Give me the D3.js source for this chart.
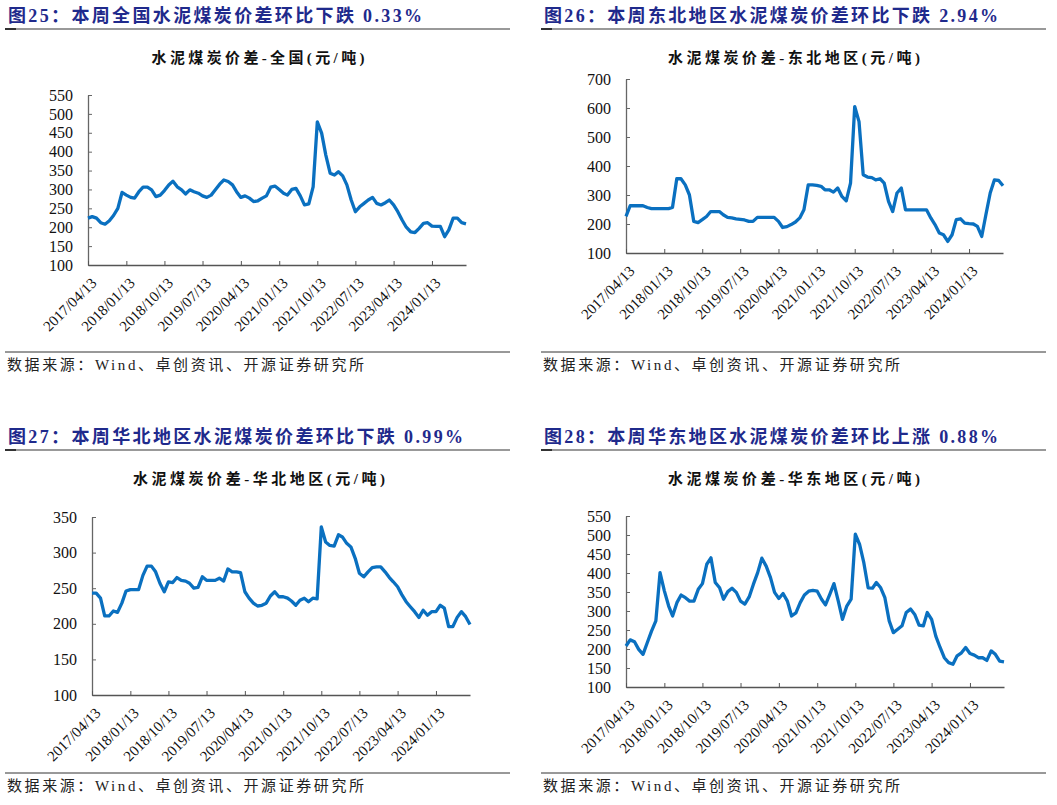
<!DOCTYPE html>
<html>
<head>
<meta charset="utf-8">
<script src="https://cdn.jsdelivr.net/npm/d3@7"></script>
<style>
	body { margin: 0; background: #fff; }
</style>
</head>
<body>
<script type="text/javascript">

	// x axis labels (every 9 months)
	var tickLabels = ["2017/04/13", "2018/01/13", "2018/10/13", "2019/07/13", "2020/04/13",
		"2021/01/13", "2021/10/13", "2022/07/13", "2023/04/13", "2024/01/13"];

	// monthly readings, starting 2017/04/13
	var nationalValues = [224, 228, 224, 212, 208, 217, 231, 250, 292, 285,
		279, 277, 294, 306, 306, 299, 281, 285, 297, 312,
		322, 307, 299, 288, 299, 294, 290, 283, 279, 285,
		299, 314, 325, 321, 312, 294, 279, 283, 277, 268,
		270, 277, 283, 306, 309, 300, 290, 285, 300, 303,
		283, 259, 262, 307, 479, 449, 391, 343, 338, 347,
		336, 312, 272, 241, 254, 263, 272, 279, 263, 259,
		265, 272, 259, 241, 219, 200, 188, 186, 197, 210,
		212, 203, 202, 202, 175, 193, 224, 224, 212, 209];

	var northeastValues = [226, 263, 263, 263, 263, 257, 253, 253, 253, 253,
		253, 257, 356, 356, 335, 300, 209, 205, 215, 226,
		243, 243, 243, 232, 223, 221, 218, 216, 214, 209,
		209, 223, 223, 223, 223, 223, 209, 188, 191, 198,
		207, 221, 249, 335, 335, 333, 330, 318, 318, 310,
		324, 295, 280, 341, 605, 553, 370, 362, 360, 352,
		356, 341, 278, 243, 307, 324, 249, 249, 249, 249,
		249, 249, 221, 198, 169, 163, 140, 163, 215, 218,
		203, 201, 200, 192, 157, 232, 307, 352, 350, 332];

	var northChinaValues = [243, 243, 236, 211, 211, 218, 216, 229, 246, 248,
		248, 248, 268, 281, 281, 273, 257, 245, 259, 258,
		265, 261, 260, 257, 250, 251, 266, 261, 261, 261,
		264, 260, 277, 273, 273, 272, 245, 236, 229, 225,
		226, 229, 239, 245, 238, 238, 236, 232, 226, 233,
		236, 231, 236, 235, 336, 315, 310, 309, 325, 322,
		313, 308, 292, 271, 266, 273, 279, 280, 280, 273,
		265, 259, 252, 241, 231, 224, 217, 209, 219, 212,
		217, 217, 226, 222, 196, 196, 209, 217, 210, 199];

	var eastChinaValues = [208, 224, 219, 199, 186, 217, 247, 274, 401, 353,
		313, 287, 322, 342, 335, 326, 326, 357, 372, 423,
		440, 375, 361, 331, 351, 360, 349, 326, 318, 337,
		370, 401, 439, 418, 388, 349, 333, 346, 326, 287,
		295, 322, 342, 352, 354, 352, 331, 316, 344, 372,
		326, 278, 313, 331, 502, 475, 427, 361, 360, 375,
		361, 335, 274, 243, 252, 261, 296, 305, 291, 263,
		261, 296, 278, 234, 204, 177, 164, 160, 182, 190,
		204, 188, 184, 177, 177, 170, 195, 186, 168, 166];

	var figureTitles = ["图25：本周全国水泥煤炭价差环比下跌 0.33%",
		"图26：本周东北地区水泥煤炭价差环比下跌 2.94%",
		"图27：本周华北地区水泥煤炭价差环比下跌 0.99%",
		"图28：本周华东地区水泥煤炭价差环比上涨 0.88%"];
	var chartTitles = ["水泥煤炭价差-全国(元/吨)", "水泥煤炭价差-东北地区(元/吨)",
		"水泥煤炭价差-华北地区(元/吨)", "水泥煤炭价差-华东地区(元/吨)"];
	var sourceText = "数据来源：Wind、卓创资讯、开源证券研究所";

	var serif = "'Liberation Serif', 'DejaVu Serif', 'Noto Sans CJK SC', serif";

	var parse = d3.timeParse("%Y/%m/%d");
	var start = parse(tickLabels[0]);

	var w = 1057, h = 805;
	var svg = d3.select("body").append("svg")
		.attr("width", w)
		.attr("height", h)
		.style("font-family", serif);

	// layout of the four panels
	var panels = [
		{ values: nationalValues, ox: 0, oy: 0, left: 88, right: 466, top: 95, bottom: 265,
		  yMin: 100, yMax: 550, step: 50, titleW: 414, chartW: 213, chartX: 258 },
		{ values: northeastValues, ox: 536, oy: 0, left: 90, right: 467, top: 79, bottom: 253,
		  yMin: 100, yMax: 700, step: 100, titleW: 454, chartW: 252, chartX: 258 },
		{ values: northChinaValues, ox: 0, oy: 421, left: 92, right: 470, top: 96, bottom: 274,
		  yMin: 100, yMax: 350, step: 50, titleW: 455, chartW: 252, chartX: 259 },
		{ values: eastChinaValues, ox: 536, oy: 421, left: 90, right: 468, top: 95, bottom: 266,
		  yMin: 100, yMax: 550, step: 50, titleW: 454, chartW: 252, chartX: 258 }
	];

	panels.forEach(function(p, k) {
		var g = svg.append("g").attr("transform", "translate(" + p.ox + "," + p.oy + ")");

		// figure title + rule
		g.append("text")
			.attr("x", 8)
			.attr("y", 22)
			.attr("textLength", p.titleW)
			.attr("lengthAdjust", "spacing")
			.style("font-size", "18px")
			.style("font-weight", "bold")
			.attr("fill", "#1f2a8c")
			.text(figureTitles[k]);
		g.append("line")
			.attr("x1", 5).attr("x2", 510)
			.attr("y1", 29).attr("y2", 29)
			.attr("stroke", "#777").attr("stroke-width", 1.5);
		g.append("line")
			.attr("x1", 5).attr("x2", 16)
			.attr("y1", 29).attr("y2", 29)
			.attr("stroke", "#111").attr("stroke-width", 1.5);

		// chart title
		g.append("text")
			.attr("x", p.chartX - p.chartW / 2)
			.attr("y", 63)
			.attr("textLength", p.chartW)
			.attr("lengthAdjust", "spacing")
			.style("font-size", "15px")
			.style("font-weight", "bold")
			.attr("fill", "#111")
			.text(chartTitles[k]);

		// source rule + text
		g.append("line")
			.attr("x1", 5).attr("x2", 510)
			.attr("y1", 352).attr("y2", 352)
			.attr("stroke", "#333").attr("stroke-width", 1);
		g.append("text")
			.attr("x", 7)
			.attr("y", 370)
			.attr("textLength", 357)
			.attr("lengthAdjust", "spacing")
			.style("font-size", "15px")
			.attr("fill", "#222")
			.text(sourceText);

		var dates = p.values.map(function(v, i) { return d3.timeMonth.offset(start, i); });

		var xScale = d3.scaleTime()
			.domain([start, dates[dates.length - 1]])
			.range([p.left, p.right]);
		var yScale = d3.scaleLinear()
			.domain([p.yMin, p.yMax])
			.range([p.bottom, p.top]);

		// y axis
		var yAxis = d3.axisLeft(yScale)
			.tickValues(d3.range(p.yMin, p.yMax + 1, p.step))
			.tickSizeInner(-4)
			.tickSizeOuter(0)
			.tickPadding(15);
		var ya = g.append("g")
			.attr("transform", "translate(" + p.left + ",0)")
			.call(yAxis)
			.attr("font-family", null);
		ya.select(".domain").attr("stroke", "#666").attr("stroke-width", 1.3);
		ya.selectAll(".tick line").attr("stroke", "#666");
		ya.selectAll("text")
			.style("font-size", "16px")
			.attr("fill", "#111");

		// x axis
		var xAxis = d3.axisBottom(xScale)
			.tickValues(tickLabels.map(parse))
			.tickSizeInner(-4)
			.tickSizeOuter(0)
			.tickFormat(d3.timeFormat("%Y/%m/%d"));
		var xa = g.append("g")
			.attr("transform", "translate(0," + p.bottom + ")")
			.call(xAxis)
			.attr("font-family", null);
		xa.select(".domain").attr("stroke", "#555").attr("stroke-width", 1.3);
		xa.selectAll(".tick line").attr("stroke", "#555");
		xa.selectAll("text")
			.style("font-size", "15px")
			.attr("fill", "#111")
			.attr("text-anchor", "end")
			.attr("dy", 0)
			.attr("y", 0)
			.attr("transform", "translate(9,19) rotate(-45)");

		// the line
		var line = d3.line()
			.x(function(d, i) { return xScale(dates[i]); })
			.y(function(d) { return yScale(d); });

		g.append("path")
			.datum(p.values)
			.attr("fill", "none")
			.attr("stroke", "#0a70c0")
			.attr("stroke-width", 3.3)
			.attr("stroke-linejoin", "round")
			.attr("d", line);
	});

</script>
</body>
</html>
